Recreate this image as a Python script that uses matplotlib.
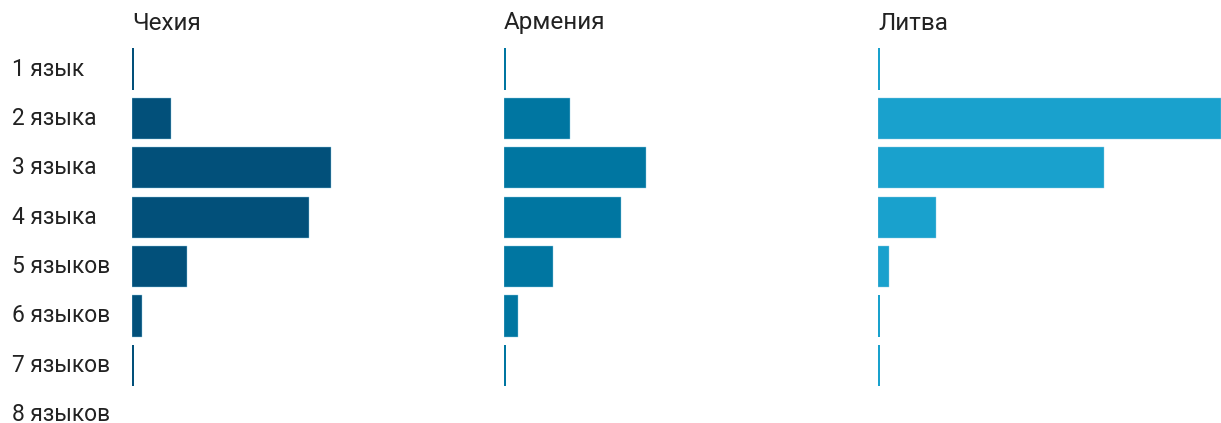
import matplotlib
matplotlib.use("Agg")
import matplotlib.pyplot as plt
import matplotlib.transforms as mtransforms

plt.rcParams['font.family'] = ['Roboto', 'DejaVu Sans']

categories = ["1 язык", "2 языка", "3 языка", "4 языка", "5 языков", "6 языков", "7 языков", "8 языков"]
countries = ["Чехия", "Армения", "Литва"]
czech = [0.35, 8.0, 41.3, 36.7, 11.4, 2.1, 0.35, 0]
armenia = [0.35, 13.6, 29.4, 24.3, 10.2, 3.0, 0.35, 0]
lithuania = [0.45, 71.2, 47.0, 12.0, 2.2, 0.45, 0.45, 0]
colors = ["#02507a", "#0076a1", "#19a1cd"]

W, H = 1221, 423
fig = plt.figure(figsize=(W / 100, H / 100), dpi=100)

row_h = 49.4
top = 69 - row_h / 2
bottom = 69 + 7.5 * row_h
lefts = [132, 504, 878]
width = 343

axes = []
for i, (name, vals) in enumerate(zip(countries, [czech, armenia, lithuania])):
    ax = fig.add_axes([lefts[i] / W, (H - bottom) / H, width / W, (bottom - top) / H])
    for j, v in enumerate(vals):
        if v <= 0:
            continue
        ax.barh(j, v, height=0.83, color=colors[i], edgecolor="#8fcbe4",
                linewidth=0.3 if v > 1 else 0)
    ax.set_ylim(7.5, -0.5)
    ax.set_xlim(0, max(lithuania))
    ax.axis("off")
    fig.text(lefts[i] / W, 1 - 23 / H, name, ha="left", va="center",
             fontsize=17.5, color="#222222")
    axes.append(ax)

trans = mtransforms.blended_transform_factory(fig.transFigure, axes[0].transData)
for j, lab in enumerate(categories):
    axes[0].text(12 / W, j, lab, transform=trans, ha="left", va="center",
                 fontsize=16.4, color="#222222", clip_on=False)

fig.savefig("out.png", dpi=100)
